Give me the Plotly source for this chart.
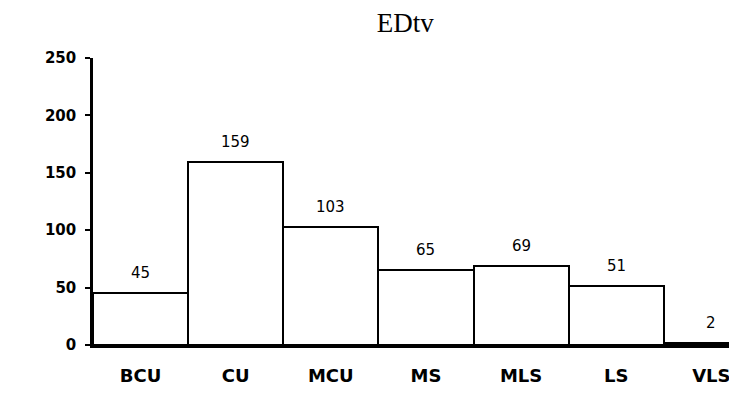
import plotly.graph_objects as go

categories = ["BCU", "CU", "MCU", "MS", "MLS", "LS", "VLS"]
values = [45, 159, 103, 65, 69, 51, 2]
y_ticks = [0, 50, 100, 150, 200, 250]

x_pos = list(range(len(categories)))

fig = go.Figure()
fig.add_trace(go.Bar(
    x=x_pos,
    y=values,
    width=1.0,
    marker=dict(color="white", line=dict(color="black", width=2)),
    cliponaxis=False,
))

for xi, v in zip(x_pos, values):
    fig.add_annotation(x=xi, y=v, text=str(v), showarrow=False,
                       yanchor="bottom", yshift=9,
                       font=dict(family="DejaVu Sans", size=15, color="black"))

fig.update_layout(
    width=737, height=417,
    margin=dict(l=85, r=8, t=50, b=80),
    paper_bgcolor="white", plot_bgcolor="white",
    title=dict(text="EDtv", x=0.539, xanchor="center", y=0.965, yanchor="middle",
               font=dict(family="Liberation Serif, Times New Roman", size=27, color="black")),
    showlegend=False,
    bargap=0,
)
fig.update_xaxes(
    range=[-0.5, 6.27],
    tickvals=x_pos,
    ticktext=categories,
    showline=True, linecolor="black", linewidth=3,
    ticks="", showgrid=False, zeroline=False,
    tickfont=dict(family="DejaVu Sans", size=18, color="black", weight="bold"),
    ticklabelstandoff=12,
)
fig.update_yaxes(
    range=[0, 250],
    tickvals=y_ticks,
    showline=True, linecolor="black", linewidth=2.5,
    ticks="outside", ticklen=5, tickwidth=2, tickcolor="black",
    showgrid=False, zeroline=False,
    ticklabelstandoff=6,
    tickfont=dict(family="DejaVu Sans", size=15, color="black", weight="bold"),
)

fig.write_html("out.html")
